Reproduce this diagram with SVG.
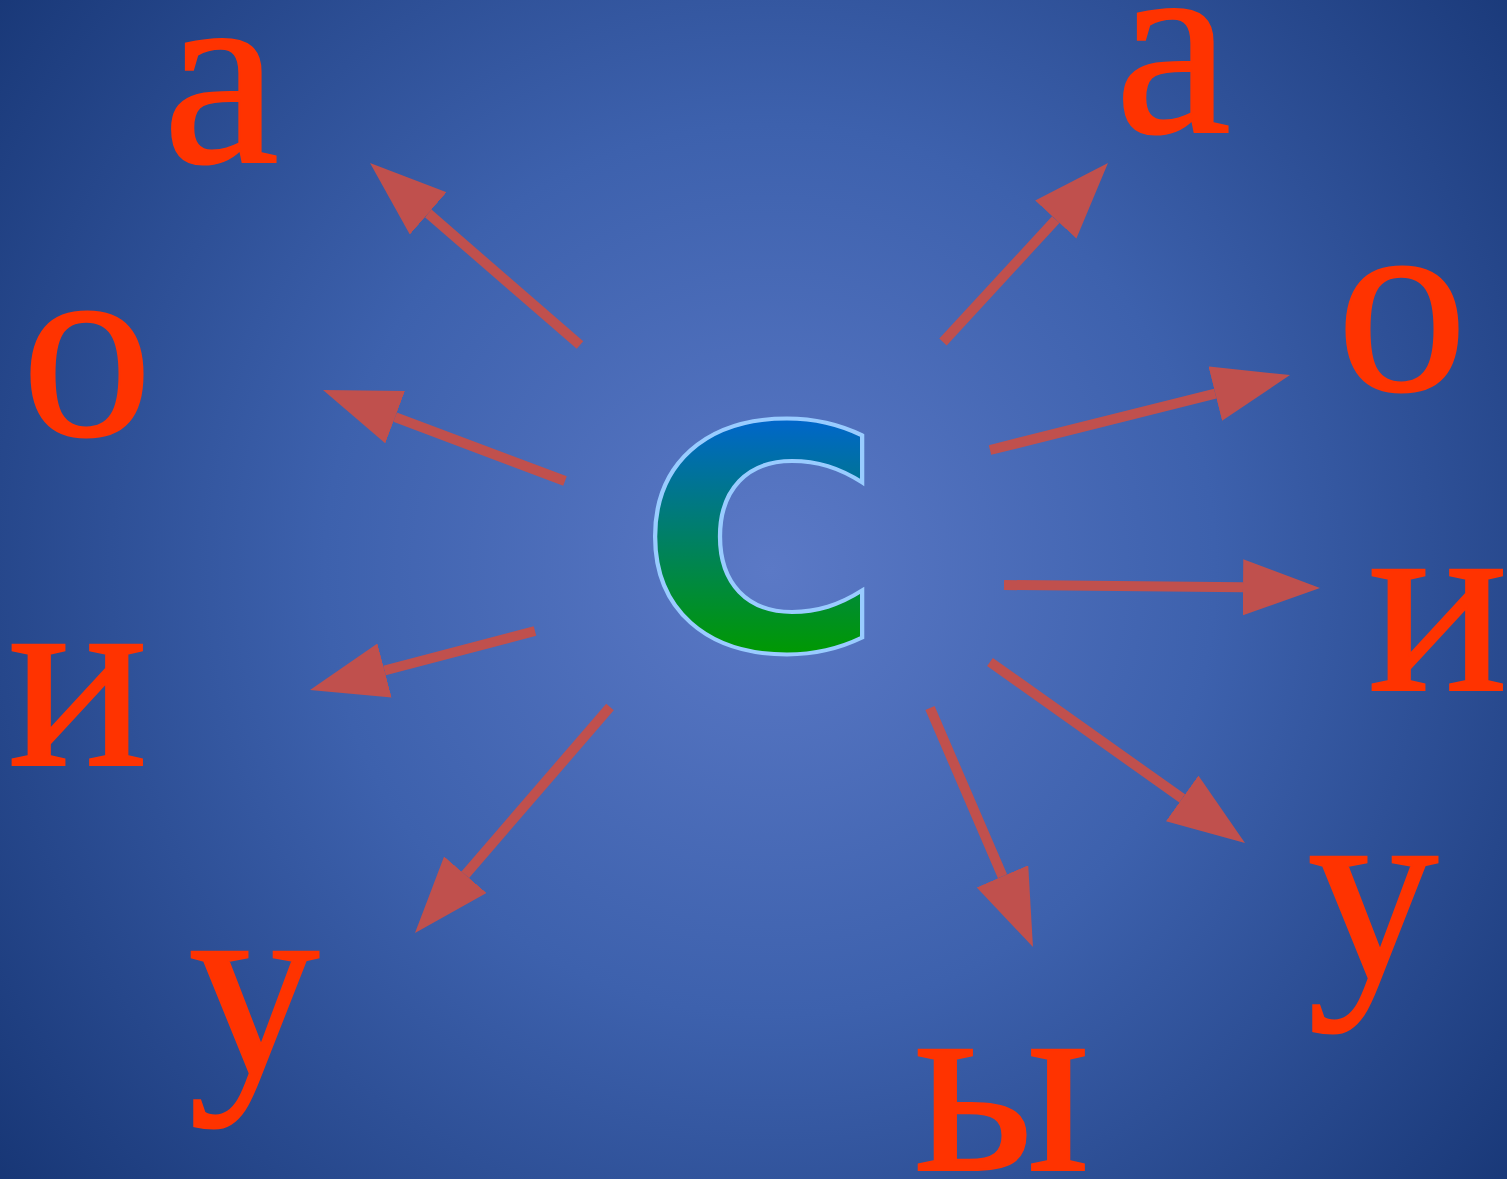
<svg xmlns="http://www.w3.org/2000/svg" width="1507" height="1179" viewBox="0 0 1507 1179">
<defs>
<radialGradient id="bg" gradientUnits="userSpaceOnUse" cx="770" cy="570" r="990">
<stop offset="0" stop-color="#5b79c6"/>
<stop offset="0.45" stop-color="#3d61ad"/>
<stop offset="1" stop-color="#173675"/>
</radialGradient>
<linearGradient id="cg" gradientUnits="userSpaceOnUse" x1="0" y1="-232" x2="0" y2="5">
<stop offset="0" stop-color="#0066cc"/>
<stop offset="1" stop-color="#009900"/>
</linearGradient>
<marker id="ah" markerUnits="userSpaceOnUse" markerWidth="80" markerHeight="60" refX="0" refY="28" orient="auto">
<path d="M0,0 L77,28 L0,56 z" fill="#c0504d"/>
</marker>
</defs>
<style>
.v{font-family:"Liberation Serif","Times New Roman",serif;font-size:262px;fill:#ff3300;stroke:#ff3300;stroke-width:2;text-anchor:middle}
.a{stroke:#c0504d;stroke-width:10;fill:none;marker-end:url(#ah)}
</style>
<rect width="1507" height="1179" fill="url(#bg)"/>
<g id="connectors">
<line class="a" x1="580" y1="345" x2="428.2" y2="213.4"/>
<line class="a" x1="565" y1="481" x2="395.1" y2="417.1"/>
<line class="a" x1="535" y1="631" x2="384.5" y2="670.5"/>
<line class="a" x1="610" y1="707" x2="465.3" y2="874.7"/>
<line class="a" x1="943" y1="342" x2="1055.8" y2="219.6"/>
<line class="a" x1="990" y1="450" x2="1215.3" y2="393.7"/>
<line class="a" x1="1004" y1="585" x2="1243" y2="587.3"/>
<line class="a" x1="990" y1="662" x2="1182.2" y2="798.4"/>
<line class="a" x1="930" y1="708" x2="1002.5" y2="876.3"/>
</g>
<g id="center" transform="translate(761,650) scale(1.07,1)"><text x="0" y="0" font-family="DejaVu Sans, sans-serif" font-weight="bold" font-size="312" text-anchor="middle" fill="url(#cg)" stroke="#99ccff" stroke-width="4">С</text></g>
<g id="a1"><text class="v" x="221" y="162">а</text></g>
<g id="a2"><text class="v" x="1173" y="132">а</text></g>
<g id="o1"><text class="v" x="87" y="435">о</text></g>
<g id="o2"><text class="v" x="1402" y="390">о</text></g>
<g id="i1"><text class="v" x="78" y="765">и</text></g>
<g id="i2"><text class="v" x="1438" y="690">и</text></g>
<g id="u1"><text class="v" x="254" y="1072">у</text></g>
<g id="u2"><text class="v" x="1373" y="977">у</text></g>
<g id="y1"><text class="v" x="1002" y="1170">ы</text></g>
</svg>
